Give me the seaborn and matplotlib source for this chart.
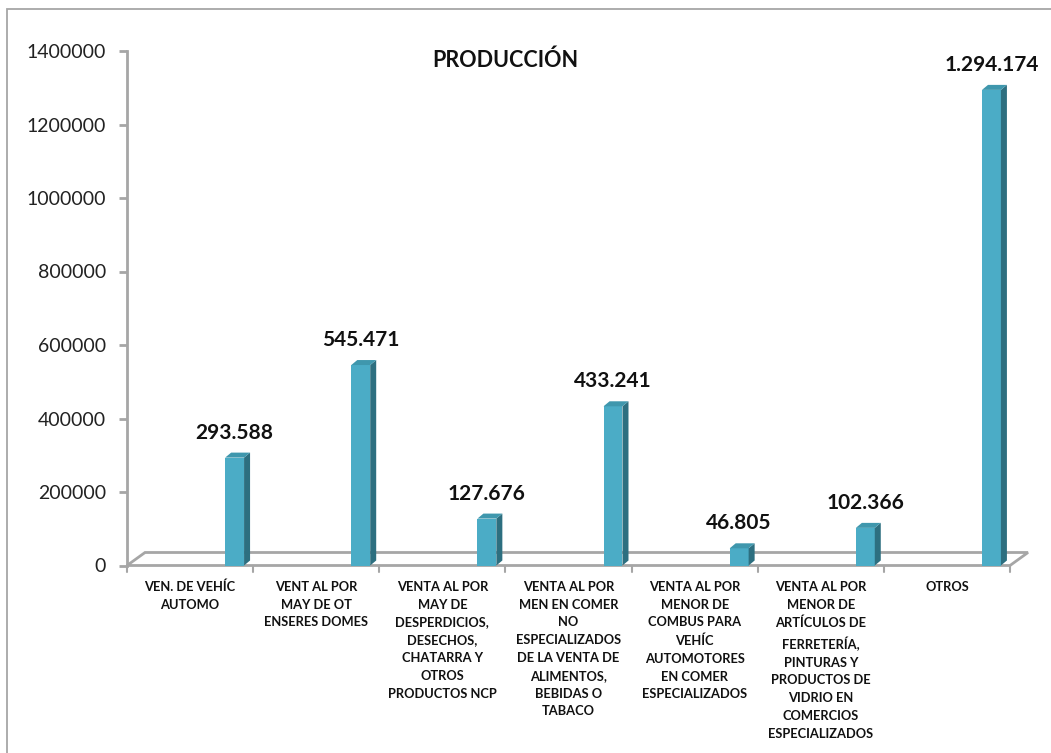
import numpy as np
import pandas as pd
import matplotlib
matplotlib.use("Agg")
import matplotlib.pyplot as plt
import seaborn as sns
from matplotlib.patches import Polygon, Rectangle

categories = [
    "VEN. DE VEHÍC\nAUTOMO",
    "VENT AL POR\nMAY DE OT\nENSERES DOMES",
    "VENTA AL POR\nMAY DE\nDESPERDICIOS,\nDESECHOS,\nCHATARRA Y\nOTROS\nPRODUCTOS NCP",
    "VENTA AL POR\nMEN EN COMER\nNO\nESPECIALIZADOS\nDE LA VENTA DE\nALIMENTOS,\nBEBIDAS O\nTABACO",
    "VENTA AL POR\nMENOR DE\nCOMBUS PARA\nVEHÍC\nAUTOMOTORES\nEN COMER\nESPECIALIZADOS",
    "VENTA AL POR\nMENOR DE\nARTÍCULOS DE\nFERRETERÍA,\nPINTURAS Y\nPRODUCTOS DE\nVIDRIO EN\nCOMERCIOS\nESPECIALIZADOS",
    "OTROS",
]
values = [293588, 545471, 127676, 433241, 46805, 102366, 1294174]
yticks = [0, 200000, 400000, 600000, 800000, 1000000, 1200000, 1400000]
title = "PRODUCCIÓN"

sns.set_theme(style="white")
plt.rcParams["font.family"] = ["Lato", "DejaVu Sans"]

W, H = 1051, 753
fig = plt.figure(figsize=(W / 100, H / 100), dpi=100)
fig.patch.set_facecolor("white")

# outer chart border (left and top visible)
fig.patches.append(Rectangle((7 / W, -0.1), 1.2, 1 - 9 / H + 0.1,
                             transform=fig.transFigure, fill=False,
                             edgecolor="#a6a6a6", linewidth=1.3))

ax_l, ax_r, ax_t, ax_b = 127, 1010, 51, 565.5
ax = fig.add_axes([ax_l / W, 1 - ax_b / H, (ax_r - ax_l) / W, (ax_b - ax_t) / H])
ax.set_facecolor("none")

df = pd.DataFrame({"cat": categories, "val": values})
front = "#4bacc6"
side = "#2d6f80"
top = "#3f97ad"
bw = 0.15
sns.barplot(data=df, x="cat", y="val", color=front, width=bw, ax=ax,
            saturation=1, edgecolor="none", linewidth=0, zorder=5)

off = 0.353
xmin, xmax = -0.5 - off, len(categories) - 0.5 - off
ax.set_xlim(xmin, xmax)
ax.set_ylim(0, 1400000)

# pixel->data scales
sx = (xmax - xmin) / (ax_r - ax_l)
sy = 1400000 / (ax_b - ax_t)

# floor
fdx, fdy = 18 * sx, 13 * sy
floor = Polygon([(xmin, 0), (xmax, 0), (xmax + fdx, fdy), (xmin + fdx, fdy)],
                closed=True, facecolor="white", edgecolor="#a6a6a6",
                linewidth=2, clip_on=False, zorder=2)
ax.add_patch(floor)

# bar 3d faces
bdx, bdy = 6 * sx, 5 * sy
for p in ax.patches[:]:
    if p is floor:
        continue
    x0 = p.get_x()
    w = p.get_width()
    h = p.get_height()
    x1 = x0 + w
    ax.add_patch(Polygon([(x1, 0), (x1 + bdx, bdy), (x1 + bdx, h + bdy), (x1, h)],
                         closed=True, facecolor=side, edgecolor="none",
                         clip_on=False, zorder=5))
    ax.add_patch(Polygon([(x0, h), (x1, h), (x1 + bdx, h + bdy), (x0 + bdx, h + bdy)],
                         closed=True, facecolor=top, edgecolor="none",
                         clip_on=False, zorder=5))

# data labels
for i, v in enumerate(values):
    ax.annotate(f"{v:,}".replace(",", "."), xy=(i, v), xytext=(0, 25),
                textcoords="offset pixels", ha="center", va="center",
                fontsize=15, fontweight="bold", color="#111111", zorder=6)

# axes styling
for s in ["top", "right", "bottom"]:
    ax.spines[s].set_visible(False)
ax.spines["left"].set_color("#a6a6a6")
ax.spines["left"].set_linewidth(2)
ax.set_yticks(yticks)
ax.set_yticklabels([str(t) for t in yticks])
ax.tick_params(axis="y", which="both", left=True, length=6, width=2,
               color="#a6a6a6", pad=9, labelsize=14, labelcolor="#222222")

# category labels
ax.set_xticks(np.arange(len(categories)) - off)
ax.set_xticklabels(categories, fontsize=9.3, fontweight="bold",
                   color="#111111", linespacing=1.58, va="top")
ax.tick_params(axis="x", length=0, pad=11)
ax.set_xlabel("")
ax.set_ylabel("")

# category boundary ticks
for k in range(len(categories) + 1):
    xb = xmin + k
    ax.plot([xb, xb], [0, -6 * sy], color="#a6a6a6", linewidth=1.5,
            clip_on=False, zorder=3)

fig.text(505 / W, 1 - 60 / H, title, ha="center", va="center",
         fontsize=15.5, fontweight="bold", color="#111111")

fig.savefig("out.png", dpi=100)
